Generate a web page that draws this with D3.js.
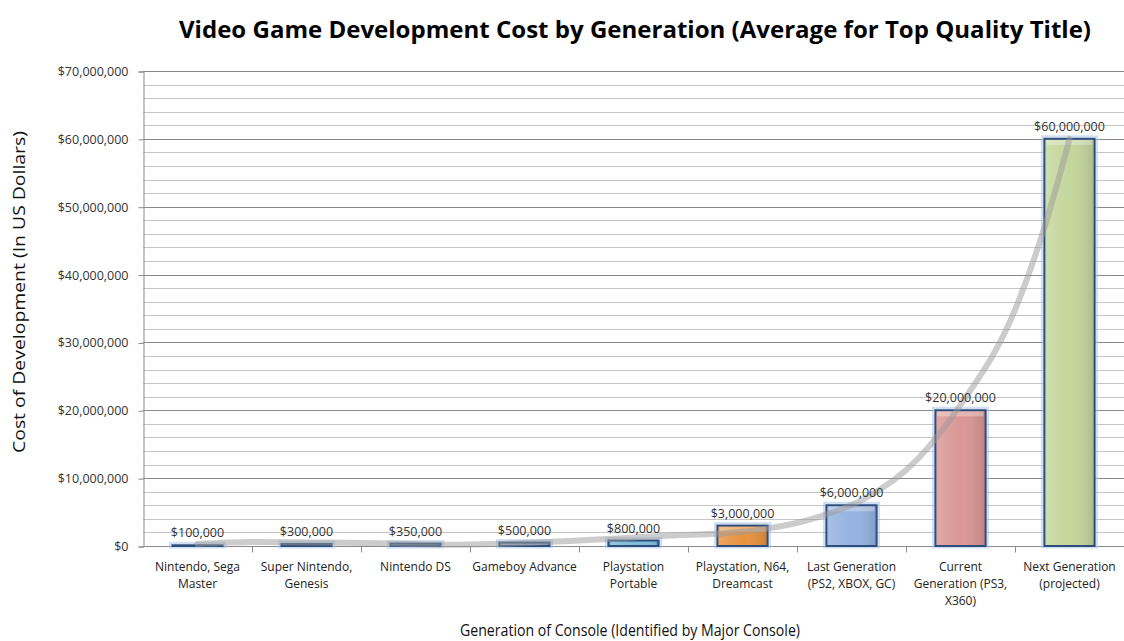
<!DOCTYPE html>
<html lang="en">
<head>
<meta charset="UTF-8">
<title>Video Game Development Cost by Generation</title>
<script src="https://cdn.jsdelivr.net/npm/d3@7"></script>
<style>
    body { margin: 0; background: #fff; }
    svg { display: block; }
    text { font-family: "Open Sans", "Noto Sans", sans-serif; }
</style>
</head>
<body>
<svg id="chart" width="1124" height="641"></svg>
<script>
// categories, one entry per line of the tick label
var categories = [
    ["Nintendo, Sega", "Master"],
    ["Super Nintendo,", "Genesis"],
    ["Nintendo DS"],
    ["Gameboy Advance"],
    ["Playstation", "Portable"],
    ["Playstation, N64,", "Dreamcast"],
    ["Last Generation", "(PS2, XBOX, GC)"],
    ["Current", "Generation (PS3,", "X360)"],
    ["Next Generation", "(projected)"]
];
var costs = [100000, 300000, 350000, 500000, 800000, 3000000, 6000000, 20000000, 60000000];
var barColors = ["#7ea3d4", "#5b7fb4", "#52719f", "#5f7cab", "#46a0cb", "#e8923e", "#95b3e0", "#d99694", "#c3d69b"];
var yTicks = [0, 10000000, 20000000, 30000000, 40000000, 50000000, 60000000, 70000000];

// grey trend curve (position in category units, value in $)
var trendPos = [0, 0.5, 1.5, 2.4, 3.3, 4.3, 5.0, 5.7, 6.1, 6.6, 7.0, 7.5, 7.8, 8.0];
var trendVal = [300000, 600000, 450000, 200000, 650000, 1500000, 2100000, 4300000, 6800000, 12700000, 20800000, 34800000, 48500000, 60000000];

var svg = d3.select("#chart");
var plotLeft = 143, plotRight = 1124, plotTop = 71, plotBottom = 546;

var xCat = d3.scaleBand().domain(d3.range(categories.length)).range([plotLeft, plotRight]);
var xBar = d3.scaleBand().domain(d3.range(categories.length)).range([plotLeft, plotRight])
    .paddingInner(0.54).paddingOuter(0.27);
var y = d3.scaleLinear().domain([0, 70000000]).range([plotBottom, plotTop]);
var xTrend = d3.scaleLinear().domain([0, categories.length - 1])
    .range([xCat(0) + xCat.bandwidth() / 2, xCat(categories.length - 1) + xCat.bandwidth() / 2]);

// gridlines: minor every 2M, major every 10M
var minor = d3.range(0, 70000001, 2000000).filter(function(d) { return d % 10000000 !== 0; });
svg.append("g").selectAll("line").data(minor).enter().append("line")
    .attr("x1", plotLeft).attr("x2", plotRight)
    .attr("y1", function(d) { return Math.round(y(d)) + 0.5; })
    .attr("y2", function(d) { return Math.round(y(d)) + 0.5; })
    .attr("stroke", "#c4c4c4").attr("stroke-width", 1);
svg.append("g").selectAll("line").data(yTicks.slice(1)).enter().append("line")
    .attr("x1", plotLeft).attr("x2", plotRight)
    .attr("y1", function(d) { return Math.round(y(d)) + 0.5; })
    .attr("y2", function(d) { return Math.round(y(d)) + 0.5; })
    .attr("stroke", "#8a8a8a").attr("stroke-width", 1);

// y axis
var yAxis = svg.append("g").attr("transform", "translate(" + (plotLeft + 0.5) + ",0.5)")
    .call(d3.axisLeft(y).tickValues(yTicks).tickSize(5).tickPadding(10)
        .tickFormat(function(d) { return "$" + d3.format(",")(d); }));
yAxis.select(".domain").attr("stroke", "#8a8a8a");
yAxis.selectAll(".tick line").attr("stroke", "#8a8a8a");
yAxis.selectAll("text").attr("font-size", "12.5px").attr("fill", "#333")
    .style("font-family", "'Open Sans', sans-serif");

// x axis line and boundary ticks
var xAxis = svg.append("g").attr("transform", "translate(0," + (plotBottom + 0.5) + ")");
xAxis.append("line").attr("x1", plotLeft).attr("x2", plotRight).attr("stroke", "#8a8a8a");
xAxis.selectAll(".bt").data(d3.range(1, categories.length + 1)).enter().append("line")
    .attr("class", "bt")
    .attr("x1", function(d) { return Math.round(plotLeft + d * xCat.step()) + 0.5; })
    .attr("x2", function(d) { return Math.round(plotLeft + d * xCat.step()) + 0.5; })
    .attr("y1", 0).attr("y2", 6).attr("stroke", "#8a8a8a");

// category labels
var catLabel = svg.append("g").selectAll("text").data(categories).enter().append("text")
    .attr("text-anchor", "middle").attr("font-size", "12px").attr("fill", "#222")
    .attr("x", function(d, i) { return xCat(i) + xCat.bandwidth() / 2; })
    .attr("y", 571);
catLabel.selectAll("tspan").data(function(d) { return d; }).enter().append("tspan")
    .attr("x", function() { return d3.select(this.parentNode).attr("x"); })
    .attr("dy", function(d, i) { return i === 0 ? 0 : 17; })
    .text(function(d) { return d; });

// bars
var defs = svg.append("defs");
var shade = defs.append("linearGradient").attr("id", "shade").attr("x1", 0).attr("x2", 1).attr("y1", 0).attr("y2", 0);
shade.append("stop").attr("offset", "0%").attr("stop-color", "#fff").attr("stop-opacity", 0.18);
shade.append("stop").attr("offset", "50%").attr("stop-color", "#fff").attr("stop-opacity", 0);
shade.append("stop").attr("offset", "100%").attr("stop-color", "#000").attr("stop-opacity", 0.12);

var bars = svg.append("g").selectAll("g").data(costs).enter().append("g");
// outer glow
bars.append("rect")
    .attr("x", function(d, i) { return xBar(i) - 1; })
    .attr("y", function(d) { return y(d) - 1; })
    .attr("width", xBar.bandwidth() + 2)
    .attr("height", function(d) { return plotBottom - y(d) + 1; })
    .attr("fill", "none").attr("stroke", "#a9c4ea").attr("stroke-width", 5).attr("stroke-opacity", 0.55);
bars.append("rect")
    .attr("x", function(d, i) { return xBar(i); })
    .attr("y", function(d) { return y(d); })
    .attr("width", xBar.bandwidth())
    .attr("height", function(d) { return plotBottom - y(d); })
    .attr("fill", function(d, i) { return barColors[i]; })
    .attr("stroke", "#2f4d7a").attr("stroke-width", 2);
bars.append("rect")
    .attr("x", function(d, i) { return xBar(i) + 1; })
    .attr("y", function(d) { return y(d) + 1; })
    .attr("width", xBar.bandwidth() - 2)
    .attr("height", function(d) { return Math.max(0, plotBottom - y(d) - 2); })
    .attr("fill", "url(#shade)");
// top bevel highlight
bars.append("rect")
    .attr("x", function(d, i) { return xBar(i) + 2; })
    .attr("y", function(d) { return y(d) + 1; })
    .attr("width", xBar.bandwidth() - 4)
    .attr("height", function(d) { return Math.min(5, Math.max(0, plotBottom - y(d) - 2)); })
    .attr("fill", "#fff").attr("fill-opacity", 0.3);

// trend curve
var line = d3.line()
    .x(function(d, i) { return xTrend(trendPos[i]); })
    .y(function(d) { return y(d); })
    .curve(d3.curveMonotoneX);
svg.append("path").datum(trendVal)
    .attr("d", line)
    .attr("fill", "none").attr("stroke", "#9a9a9a").attr("stroke-opacity", 0.5)
    .attr("stroke-width", 6).attr("stroke-linecap", "round");

// value labels
svg.append("g").selectAll("text").data(costs).enter().append("text")
    .attr("text-anchor", "middle").attr("font-size", "12.5px").attr("fill", "#333")
    .attr("x", function(d, i) { return xBar(i) + xBar.bandwidth() / 2; })
    .attr("y", function(d) { return y(d) - 8; })
    .text(function(d) { return "$" + d3.format(",")(d); });

// titles
svg.append("text").attr("x", 635).attr("y", 38).attr("text-anchor", "middle")
    .attr("font-size", "24px").attr("font-weight", "bold").attr("fill", "#000")
    .attr("textLength", 912).attr("lengthAdjust", "spacingAndGlyphs")
    .text("Video Game Development Cost by Generation (Average for Top Quality Title)");
svg.append("text").attr("transform", "translate(25,292) rotate(-90)").attr("text-anchor", "middle")
    .attr("font-size", "17px").attr("fill", "#111")
    .attr("textLength", 322).attr("lengthAdjust", "spacingAndGlyphs")
    .text("Cost of Development (In US Dollars)");
svg.append("text").attr("x", 630).attr("y", 636).attr("text-anchor", "middle")
    .attr("font-size", "16.5px").attr("fill", "#111")
    .attr("textLength", 340).attr("lengthAdjust", "spacingAndGlyphs")
    .text("Generation of Console (Identified by Major Console)");
</script>
</body>
</html>
